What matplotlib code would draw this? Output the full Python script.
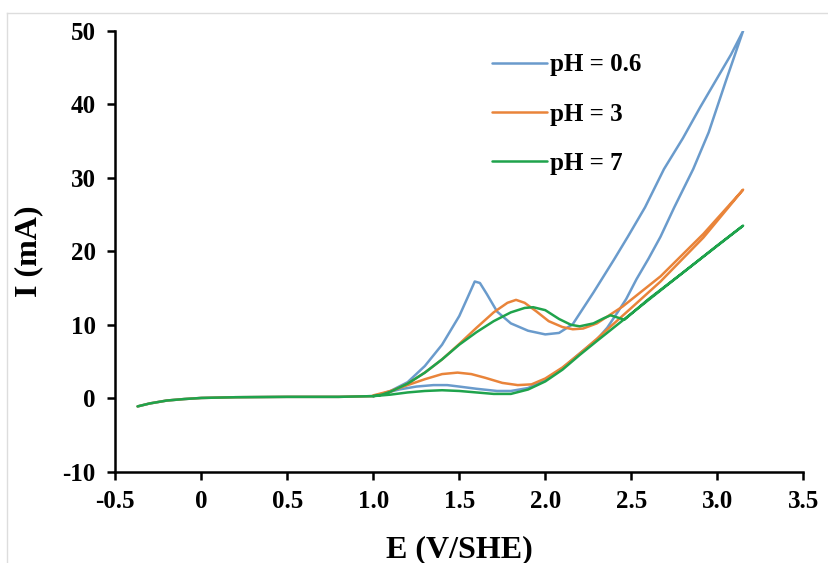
import matplotlib
matplotlib.use('Agg')
from matplotlib import pyplot as plt
from matplotlib.lines import Line2D

# potentials (V/SHE) and currents (mA), forward and reverse sweeps
base_E = [-0.37, -0.3, -0.2, -0.1, 0.0, 0.2, 0.5, 0.8, 1.0]
base_I = [-1.1, -0.7, -0.3, -0.1, 0.05, 0.15, 0.2, 0.2, 0.3]

blue_E_fwd = [1.05, 1.1, 1.2, 1.3, 1.4, 1.5, 1.55, 1.59, 1.62, 1.66, 1.72, 1.8, 1.9, 2.0,
              2.08, 2.16, 2.28, 2.4, 2.48, 2.58, 2.69, 2.8, 2.9, 3.0, 3.08, 3.15]
blue_I_fwd = [0.6, 1.0, 2.2, 4.4, 7.3, 11.2, 13.8, 15.9, 15.7, 14.2, 11.8, 10.2, 9.2, 8.7,
              8.9, 10.1, 14.4, 18.9, 22.0, 26.0, 31.2, 35.4, 39.6, 43.6, 46.8, 50.0]
blue_E_rev = [3.05, 2.95, 2.86, 2.75, 2.67, 2.6, 2.53, 2.47, 2.42, 2.36, 2.3, 2.2, 2.1, 2.0,
              1.9, 1.8, 1.72, 1.6, 1.5, 1.43, 1.35, 1.25, 1.15, 1.05, 1.0]
blue_I_rev = [43.2, 36.2, 31.2, 26.0, 22.0, 19.0, 16.2, 13.5, 11.7, 9.6, 8.0, 6.1, 4.1, 2.5,
              1.4, 1.0, 1.0, 1.3, 1.6, 1.8, 1.8, 1.6, 1.2, 0.6, 0.3]

orange_E_fwd = [1.05, 1.1, 1.2, 1.3, 1.4, 1.5, 1.6, 1.7, 1.78, 1.83, 1.88, 1.95, 2.02, 2.1,
                2.16, 2.22, 2.3, 2.45, 2.67, 2.92, 3.15]
orange_I_fwd = [0.5, 0.9, 2.0, 3.5, 5.3, 7.4, 9.6, 11.7, 13.0, 13.4, 13.0, 11.8, 10.5, 9.7,
                9.4, 9.5, 10.2, 12.5, 16.6, 22.4, 28.4]
orange_E_rev = [2.92, 2.67, 2.5, 2.4, 2.3, 2.2, 2.1, 2.0, 1.92, 1.84, 1.75, 1.65, 1.57, 1.49,
                1.4, 1.3, 1.2, 1.1, 1.0]
orange_I_rev = [21.9, 15.9, 12.3, 10.2, 8.1, 6.1, 4.2, 2.7, 1.9, 1.8, 2.1, 2.8, 3.3, 3.5,
                3.3, 2.6, 1.8, 1.0, 0.4]

green_E_fwd = [1.05, 1.1, 1.2, 1.3, 1.4, 1.5, 1.6, 1.7, 1.8, 1.88, 1.93, 2.0, 2.08, 2.15,
               2.2, 2.28, 2.34, 2.38, 2.42, 2.46, 2.6, 2.8, 3.0, 3.15]
green_I_fwd = [0.5, 0.9, 2.0, 3.5, 5.3, 7.3, 9.0, 10.5, 11.7, 12.3, 12.4, 12.0, 10.8, 10.0,
               9.8, 10.2, 10.9, 11.3, 11.0, 10.7, 13.5, 17.1, 20.8, 23.5]
green_E_rev = [2.8, 2.45, 2.3, 2.2, 2.1, 2.0, 1.9, 1.8, 1.7, 1.6, 1.5, 1.4, 1.3, 1.2, 1.1, 1.0]
green_I_rev = [17.1, 10.6, 7.8, 5.9, 3.9, 2.3, 1.2, 0.6, 0.6, 0.8, 1.0, 1.1, 1.0, 0.8, 0.5, 0.3]

labels = ['pH = 0.6', 'pH = 3', 'pH = 7']
colors = ['#6A9BCC', '#E9843A', '#1FA34C']
xticks = [-0.5, 0, 0.5, 1.0, 1.5, 2.0, 2.5, 3.0, 3.5]
xtick_labels = ['-0.5', '0', '0.5', '1.0', '1.5', '2.0', '2.5', '3.0', '3.5']
yticks = [-10, 0, 10, 20, 30, 40, 50]

plt.rcParams['font.family'] = ['Liberation Serif', 'DejaVu Serif']
plt.rcParams['font.weight'] = 'bold'
plt.rcParams['axes.unicode_minus'] = False

fig = plt.figure(figsize=(8.29, 5.63), dpi=100)
ax = fig.add_axes([0.139, 0.162, 0.830, 0.783])

# light frame of the original screenshot
fig.add_artist(Line2D([7 / 829, 1], [1 - 13 / 563, 1 - 13 / 563], color='#DDDDDD', lw=1))
fig.add_artist(Line2D([7 / 829, 7 / 829], [0, 1 - 13 / 563], color='#DDDDDD', lw=1))

series = [
    (blue_E_fwd, blue_I_fwd, blue_E_rev, blue_I_rev),
    (orange_E_fwd, orange_I_fwd, orange_E_rev, orange_I_rev),
    (green_E_fwd, green_I_fwd, green_E_rev, green_I_rev),
]
for (ef, jf, er, jr), lab, c in zip(series, labels, colors):
    ax.plot(base_E + ef + er, base_I + jf + jr, color=c, lw=1.8, label=lab,
            solid_joinstyle='round', solid_capstyle='round')

ax.set_xlim(-0.5, 3.5)
ax.set_ylim(-10, 50)
ax.set_xticks(xticks)
ax.set_xticklabels(xtick_labels)
ax.set_yticks(yticks)

for s in ['top', 'right']:
    ax.spines[s].set_visible(False)
for s in ['left', 'bottom']:
    ax.spines[s].set_linewidth(1.8)
ax.tick_params(direction='out', length=6, width=1.8, labelsize=18)
ax.tick_params(axis='x', pad=7)
ax.tick_params(axis='y', pad=8)

ax.set_xlabel('E (V/SHE)', fontsize=23, fontweight='bold', labelpad=16)
ax.set_ylabel('I (mA)', fontsize=23, fontweight='bold', labelpad=14)

ax.legend(loc='upper left', bbox_to_anchor=(0.515, 1.0), frameon=False,
          handlelength=2.2, handletextpad=0.12, labelspacing=1.05,
          prop={'weight': 'bold', 'size': 18})

fig.savefig('out.png', dpi=100)
